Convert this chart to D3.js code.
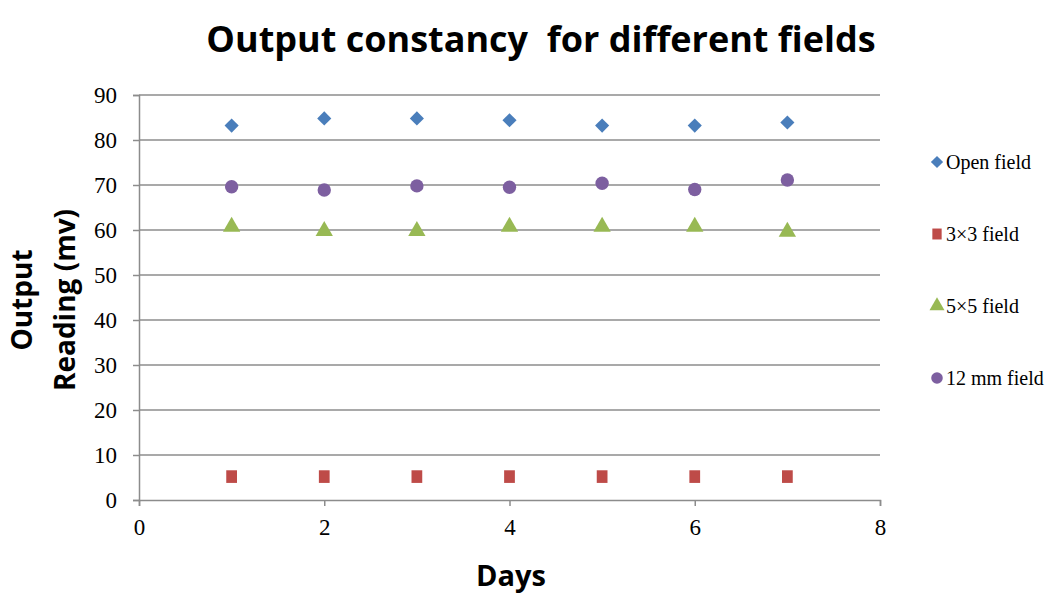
<!DOCTYPE html>
<html>
<head>
<meta charset="utf-8">
<script src="https://cdn.jsdelivr.net/npm/d3@7"></script>
<style>
  body { margin: 0; background: #fff; }
  .tick text { font-family: "Liberation Serif", serif; font-size: 23px; fill: #000; }
</style>
</head>
<body>
<div class="chart"></div>
<script>
var w = 1050,
  h = 597,
  margin = { top: 95, right: 170, bottom: 97, left: 139 };

// values
var days = [1, 2, 3, 4, 5, 6, 7];
var openField = [83.2, 84.8, 84.8, 84.4, 83.2, 83.2, 83.9];
var field3x3 = [5.2, 5.2, 5.2, 5.2, 5.2, 5.2, 5.2];
var field5x5 = [60.7, 59.8, 59.8, 60.7, 60.7, 60.7, 59.6];
var field12mm = [69.6, 68.9, 69.8, 69.5, 70.4, 69.0, 71.1];
var xTicks = [0, 2, 4, 6, 8];
var yTicks = [0, 10, 20, 30, 40, 50, 60, 70, 80, 90];

// diamond = square turned by 45 degrees
var series = [
  { name: 'Open field', values: openField, color: '#4a7ebb', shape: d3.symbolSquare, size: 100, rot: 45, sx: 1 },
  { name: '3\u00d73 field', values: field3x3, color: '#be4b48', shape: d3.symbolSquare, size: 160, rot: 0, sx: 0.85 },
  { name: '5\u00d75 field', values: field5x5, color: '#98b954', shape: d3.symbolTriangle, size: 130, rot: 0, sx: 1 },
  { name: '12 mm field', values: field12mm, color: '#7d5fa0', shape: d3.symbolCircle, size: 140, rot: 0, sx: 1 }
];

var svg = d3.select('.chart')
  .append('svg')
  .attr('width', w)
  .attr('height', h);

var x = d3.scaleLinear().domain([0, 8]).range([margin.left, w - margin.right]);
var y = d3.scaleLinear().domain([0, 90]).range([h - margin.bottom, margin.top]);

// gridlines
svg.append('g')
  .selectAll('line')
  .data(yTicks.slice(1))
  .enter()
  .append('line')
  .attr('x1', x(0))
  .attr('x2', x(8))
  .attr('y1', d => y(d))
  .attr('y2', d => y(d))
  .attr('stroke', '#8c8c8c')
  .attr('stroke-width', 1.5);

// axes
var xAxis = svg.append('g')
  .attr('transform', 'translate(0,' + y(0) + ')')
  .call(d3.axisBottom(x).tickValues(xTicks).tickSize(6).tickPadding(13));

var yAxis = svg.append('g')
  .attr('transform', 'translate(' + x(0) + ',0)')
  .call(d3.axisLeft(y).tickValues(yTicks).tickSize(6).tickPadding(16));

[xAxis, yAxis].forEach(function (a) {
  a.select('.domain').attr('stroke', '#8c8c8c').attr('stroke-width', 1.5);
  a.selectAll('.tick line').attr('stroke', '#8c8c8c').attr('stroke-width', 1.5);
});

// points
series.forEach(function (s) {
  svg.append('g')
    .selectAll('path')
    .data(s.values)
    .enter()
    .append('path')
    .attr('d', d3.symbol().type(s.shape).size(s.size))
    .attr('transform', (d, i) => 'translate(' + x(days[i]) + ',' + y(d) + ') rotate(' + s.rot + ') scale(' + s.sx + ',1)')
    .attr('fill', s.color);
});

// legend
var legend = svg.append('g')
  .selectAll('g')
  .data(series)
  .enter()
  .append('g')
  .attr('transform', (d, i) => 'translate(937,' + (162 + i * 72) + ')');

legend.append('path')
  .attr('d', d => d3.symbol().type(d.shape).size(d.size * 0.75)())
  .attr('transform', d => 'rotate(' + d.rot + ') scale(' + d.sx + ',1)')
  .attr('fill', d => d.color);

legend.append('text')
  .attr('x', 9)
  .attr('dy', '0.35em')
  .attr('font-family', 'Liberation Serif, serif')
  .attr('font-size', '20px')
  .text(d => d.name);

// titles
svg.append('text')
  .attr('x', 541)
  .attr('y', 52)
  .attr('text-anchor', 'middle')
  .attr('font-family', 'Open Sans, sans-serif')
  .attr('font-weight', 'bold')
  .attr('font-size', '36px')
  .style('white-space', 'pre')
  .text('Output constancy  for different fields');

svg.append('text')
  .attr('x', 511)
  .attr('y', 586)
  .attr('text-anchor', 'middle')
  .attr('font-family', 'Open Sans, sans-serif')
  .attr('font-weight', 'bold')
  .attr('font-size', '29px')
  .text('Days');

var yTitle = svg.append('text')
  .attr('transform', 'translate(0,300) rotate(-90)')
  .attr('text-anchor', 'middle')
  .attr('font-family', 'Open Sans, sans-serif')
  .attr('font-weight', 'bold')
  .attr('font-size', '28px');

yTitle.append('tspan').attr('x', 0).attr('y', 32).text('Output');
yTitle.append('tspan').attr('x', 0).attr('y', 75).text('Reading (mv)');
</script>
</body>
</html>
